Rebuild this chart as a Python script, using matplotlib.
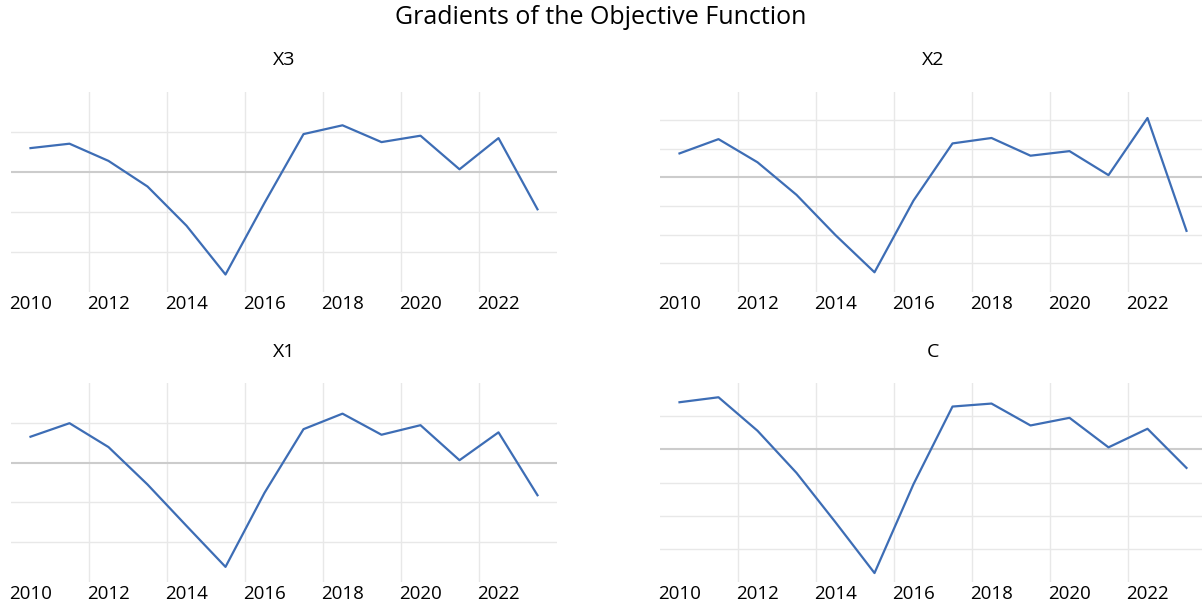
# Gradients of the objective function, one panel per parameter
import numpy as np
import matplotlib.pyplot as plt
from matplotlib.transforms import ScaledTranslation

# observation years (values sit at mid-year on the date axis)
years = np.arange(2010, 2024)

grad_x3 = [0.59, 0.70, 0.27, -0.37, -1.35, -2.57, -0.78, 0.94, 1.16, 0.74, 0.90, 0.06, 0.84, -0.94]
grad_x2 = [0.84, 1.34, 0.53, -0.61, -2.02, -3.32, -0.81, 1.19, 1.38, 0.76, 0.92, 0.08, 2.08, -1.87]
grad_x1 = [0.65, 0.99, 0.39, -0.55, -1.59, -2.62, -0.76, 0.84, 1.23, 0.70, 0.94, 0.06, 0.76, -0.82]
grad_c = [1.42, 1.57, 0.56, -0.71, -2.20, -3.73, -1.05, 1.29, 1.38, 0.72, 0.95, 0.06, 0.62, -0.56]

panel_titles = ['X3', 'X2', 'X1', 'C']
panel_data = [grad_x3, grad_x2, grad_x1, grad_c]
panel_ylims = [(-3, 2), (-4, 3), (-3, 2), (-4, 2)]
tick_years = list(range(2010, 2023, 2))

plt.rcParams['font.family'] = ['Open Sans', 'DejaVu Sans']

W, H = 1202, 605
fig = plt.figure(figsize=(W / 100, H / 100), dpi=100)

# panel boxes in pixels: left, top, width, height
boxes = [(11, 91.7, 546, 200), (660, 91.7, 546, 200),
         (11, 383, 546, 199), (660, 383, 546, 199)]

line_color = '#3d6db5'
shift = ScaledTranslation(-2 / 100, 0, fig.dpi_scale_trans)

for title, vals, ylim, (l, t, w, h) in zip(panel_titles, panel_data, panel_ylims, boxes):
    ax = fig.add_axes([l / W, 1 - (t + h) / H, w / W, h / H])
    ax.plot(years + 0.5, vals, color=line_color, linewidth=1.6, zorder=3)
    ax.axhline(0, color='#cccccc', linewidth=1.5, zorder=2)

    ax.set_xlim(2010, 2024)
    ax.set_ylim(*ylim)
    ax.set_xticks(tick_years)
    ax.set_xticklabels([str(y) for y in tick_years], ha='left', fontsize=13.5)
    ax.set_yticks([v for v in range(ylim[0] + 1, ylim[1]) if v != 0])
    ax.set_yticklabels([])
    ax.tick_params(length=0, pad=2.5)
    for lab in ax.get_xticklabels():
        lab.set_transform(lab.get_transform() + shift)
    ax.grid(True, color='#e8e8e8', linewidth=1.0, zorder=1)
    ax.get_xgridlines()[0].set_visible(False)
    for s in ax.spines.values():
        s.set_visible(False)
    ax.set_title(title, fontsize=14, pad=19)

fig.suptitle('Gradients of the Objective Function', fontsize=18, y=1 - 18 / H, va='center')

plt.savefig('out.png', dpi=100)
